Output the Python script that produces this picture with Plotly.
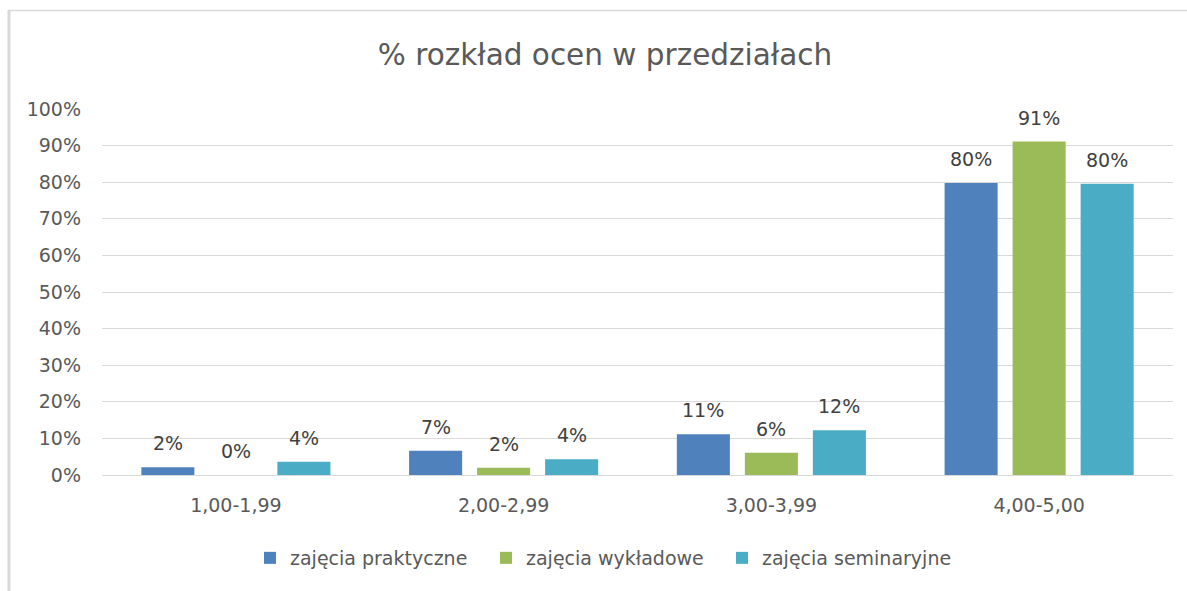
import plotly.graph_objects as go

categories = ["1,00-1,99", "2,00-2,99", "3,00-3,99", "4,00-5,00"]
series_names = ["zajęcia praktyczne", "zajęcia wykładowe", "zajęcia seminaryjne"]
praktyczne = [0.021, 0.066, 0.111, 0.798]
wykladowe = [0.0, 0.020, 0.061, 0.911]
seminaryjne = [0.036, 0.043, 0.122, 0.796]
y_ticks = [i / 10 for i in range(11)]
y_tick_labels = [f"{i*10}%" for i in range(11)]
colors = ["#4F81BD", "#9BBB59", "#4BACC6"]

series = [praktyczne, wykladowe, seminaryjne]

FONT = "DejaVu Sans"
W, H = 1187, 591
ML, MR, MT, MB = 102, 14, 109, 116
plot_w = W - ML - MR
plot_h = H - MT - MB
bargap = 0.238
bargroupgap = 0.22

fig = go.Figure()
for name, vals, col in zip(series_names, series, colors):
    fig.add_trace(go.Bar(x=categories, y=vals, name=name, marker_color=col,
                         marker_line_width=0))

# data labels as annotations above bars
cat_px = plot_w / len(categories)
slot_px = cat_px * (1 - bargap) / len(series)
annotations = []
for si, vals in enumerate(series):
    shift = (si - (len(series) - 1) / 2) * slot_px
    for c, v in zip(categories, vals):
        annotations.append(dict(x=c, y=v, xref="x", yref="y", text=f"{round(v*100):.0f}%",
                                showarrow=False, xshift=shift, yshift=24, yanchor="middle",
                                font=dict(family=FONT, size=19, color="#404040")))

shapes = [
    dict(type="line", xref="paper", yref="paper",
         x0=(9 - ML) / plot_w, x1=(9 - ML) / plot_w,
         y0=(H - MB - 10) / plot_h, y1=(H - MB - H) / plot_h,
         line=dict(color="#d9d9d9", width=3)),
    dict(type="line", xref="paper", yref="paper",
         x0=(8 - ML) / plot_w, x1=(W - ML) / plot_w,
         y0=(H - MB - 10.5) / plot_h, y1=(H - MB - 10.5) / plot_h,
         line=dict(color="#d9d9d9", width=1.5)),
]

fig.update_layout(
    width=W, height=H,
    margin=dict(l=ML, r=MR, t=MT, b=MB),
    paper_bgcolor="white", plot_bgcolor="white",
    barmode="group", bargap=bargap, bargroupgap=bargroupgap,
    title=dict(text="% rozkład ocen w przedziałach", x=605 / W, xanchor="center",
               y=1 - 55 / H, yanchor="middle",
               font=dict(family=FONT, size=29.5, color="#595959")),
    font=dict(family=FONT, color="#595959", size=19),
    xaxis=dict(showgrid=False, showline=False, ticks="", ticklabelstandoff=17,
               tickfont=dict(family=FONT, size=19, color="#595959")),
    yaxis=dict(range=[0, 1], tickvals=y_ticks, ticktext=y_tick_labels,
               showgrid=True, gridcolor="#d9d9d9", gridwidth=1.3,
               zeroline=True, zerolinecolor="#d9d9d9", zerolinewidth=1.3,
               showline=False, ticks="", ticklabelstandoff=20,
               tickfont=dict(family=FONT, size=19, color="#595959")),
    legend=dict(orientation="h", x=(250 - ML) / plot_w, xanchor="left",
                y=(H - MB - 558) / plot_h, yanchor="middle",
                font=dict(family=FONT, size=19, color="#595959"),
                itemwidth=30, entrywidth=191, traceorder="normal"),
    annotations=annotations,
    shapes=shapes,
)

fig.write_html("out.html", config={"displayModeBar": False},
               post_script="document.body.style.margin='0';")
